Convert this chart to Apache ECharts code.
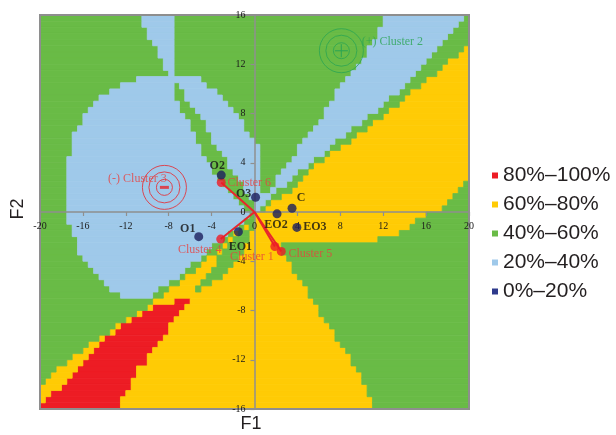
<!DOCTYPE html>
<html>
<head>
<meta charset="utf-8">
<script src="https://cdn.jsdelivr.net/npm/echarts@6/dist/echarts.min.js"></script>
<style>html,body{margin:0;padding:0;background:#fff}#c{width:616px;height:435px}</style>
</head>
<body>
<div id="c"></div>
<script>
// ---------------- DATA ----------------
const classLabels = ['80%–100%', '60%–80%', '40%–60%', '20%–40%', '0%–20%'];
const classCodes  = ['r', 'y', 'g', 'b', 'n'];

// Classified map, one row per 0.5 unit of F2 (row centre), runs read left to right:
// code:xEnd  (b = 20–40%, g = 40–60%, y = 60–80%, r = 80–100%), starting at F1 = -20
const mapRows = [
  [15.75, 'g:-10.5 b:-7.5 g:12 b:19.5 g:20'],
  [15.25, 'g:-10.5 b:-7.5 g:12 b:19 g:20'],
  [14.75, 'g:-10 b:-7.5 g:11.5 b:18.5 g:20'],
  [14.25, 'g:-10 b:-7.5 g:11.5 b:18 g:20'],
  [13.75, 'g:-9.5 b:-7.5 g:11 b:17.5 g:20'],
  [13.25, 'g:-9 b:-7.5 g:10.5 b:17 g:19.5 y:20'],
  [12.75, 'g:-9 b:-7.5 g:10.5 b:16.5 g:19 y:20'],
  [12.25, 'g:-8.5 b:-7.5 g:10 b:16 g:18 y:20'],
  [11.75, 'g:-8.5 b:-7.5 g:9.5 b:15.5 g:17.5 y:20'],
  [11.25, 'g:-8 b:-7.5 g:9 b:15 g:17 y:20'],
  [10.75, 'g:-11 b:-5 g:8.5 b:14.5 g:16 y:20'],
  [10.25, 'g:-12.5 b:-7.5 g:-7 b:-4.5 g:8 b:14 g:15.5 y:20'],
  [9.75,  'g:-13.5 b:-7.5 g:-6.5 b:-3.5 g:7.5 b:13.5 g:14.5 y:20'],
  [9.25,  'g:-14.5 b:-7.5 g:-6.5 b:-3 g:7.5 b:12.5 g:14 y:20'],
  [8.75,  'g:-15 b:-7 g:-6 b:-2.5 g:7 b:12 g:13.5 y:20'],
  [8.25,  'g:-15.5 b:-7 g:-5.5 b:-2 g:6.5 b:11.5 g:12.5 y:20'],
  [7.75,  'g:-16 b:-6.5 g:-5 b:-1.5 g:6.5 b:10.5 g:12 y:20'],
  [7.25,  'g:-16 b:-6 g:-4.5 b:-1 g:6 b:10 g:11 y:20'],
  [6.75,  'g:-16.5 b:-6 g:-4.5 b:-1 g:5.5 b:9 g:10.5 y:20'],
  [6.25,  'g:-17 b:-5.5 g:-4 b:-0.5 g:5 b:8.5 g:9.5 y:20'],
  [5.75,  'g:-17 b:-5.5 g:-4 b:0 g:4.5 b:7.5 g:9 y:20'],
  [5.25,  'g:-17 b:-5 g:-3.5 b:0.5 g:4 b:7 g:8 y:20'],
  [4.75,  'g:-17 b:-5 g:-3 b:0.5 g:4 b:6.5 g:7 y:20'],
  [4.25,  'g:-17.5 b:-4.5 g:-2.5 b:0.5 g:3.5 b:5.5 g:6.5 y:20'],
  [3.75,  'g:-17.5 b:-4 g:-2.5 b:0.5 g:3 b:5 g:5.5 y:20'],
  [3.25,  'g:-17.5 b:-4 g:-2 b:0.5 g:2.5 b:4 g:5 y:20'],
  [2.75,  'g:-17.5 b:-3.5 g:-1.5 b:0.5 g:2 b:3.5 g:4.5 y:20'],
  [2.25,  'g:-17.5 b:-3 g:-1 b:0.5 g:2 b:3 g:4 y:19.5 g:20'],
  [1.75,  'g:-17.5 b:-2.5 g:-1 b:0.5 g:1.5 b:2 g:3.5 y:19 g:20'],
  [1.25,  'g:-17.5 b:-2 g:-0.5 b:1.5 g:2.5 y:18.5 g:20'],
  [0.75,  'g:-17.5 b:-1.5 g:0 b:1 g:1.5 y:18 g:20'],
  [0.25,  'g:-17.5 b:-1 g:0 b:0.5 g:1 y:17.5 g:20'],
  [-0.25, 'g:-17.5 b:-0.5 g:0 y:16 g:20'],
  [-0.75, 'g:-17.5 b:-1 g:0 y:15 g:20'],
  [-1.25, 'g:-17 b:-1.5 g:-1 y:-0.5 g:0 y:14.5 g:20'],
  [-1.75, 'g:-17 b:-2.5 g:-2 y:-1.5 g:-0.5 y:13.5 g:20'],
  [-2.25, 'g:-16.5 b:-3 g:-2.5 y:-2 g:-0.5 y:11.5 g:20'],
  [-2.75, 'g:-16.5 b:-4 g:-3 y:-2.5 g:-1 y:2.5 g:20'],
  [-3.25, 'g:-16.5 b:-4.5 g:-3.5 y:-3 g:-1 y:2.5 g:20'],
  [-3.75, 'g:-16 b:-5 g:-4.5 y:-3.5 g:-1.5 y:3 g:20'],
  [-4.25, 'g:-15.5 b:-6 g:-5 y:-3.5 g:-2 y:3.5 g:20'],
  [-4.75, 'g:-15 b:-6.5 g:-5.5 y:-4 g:-2.5 y:3.5 g:20'],
  [-5.25, 'g:-14.5 b:-7 g:-6.5 y:-4.5 g:-3 y:4 g:20'],
  [-5.75, 'g:-14 b:-8 g:-7 y:-5 g:-4 y:4.5 g:20'],
  [-6.25, 'g:-13.5 b:-9 g:-8 y:-5.5 g:-5 y:5 g:20'],
  [-6.75, 'g:-12.5 b:-9.5 g:-8.5 y:5 g:20'],
  [-7.25, 'g:-9.5 y:-7.5 r:-6 y:5.5 g:20'],
  [-7.75, 'g:-10 y:-9.5 r:-6.5 y:6 g:20'],
  [-8.25, 'g:-11 y:-10.5 r:-7 y:6 g:20'],
  [-8.75, 'g:-12 y:-11.5 r:-7.5 y:6.5 g:20'],
  [-9.25, 'g:-13 y:-12.5 r:-8 y:7 g:20'],
  [-9.75, 'g:-13.5 y:-13 r:-8 y:7.5 g:20'],
  [-10.25,'g:-14.5 y:-14 r:-8.5 y:7.5 g:20'],
  [-10.75,'g:-15.5 y:-14.5 r:-9 y:8 g:20'],
  [-11.25,'g:-16 y:-15 r:-9.5 y:8.5 g:20'],
  [-11.75,'g:-17 y:-15.5 r:-10 y:9 g:20'],
  [-12.25,'g:-17.5 y:-16 r:-10 y:9 g:20'],
  [-12.75,'g:-18.5 y:-16.5 r:-11 y:9.5 g:20'],
  [-13.25,'g:-19 y:-17 r:-11 y:10 g:20'],
  [-13.75,'g:-19.5 y:-17.5 r:-11.5 y:10 g:20'],
  [-14.25,'y:-18 r:-11.5 y:10.5 g:20'],
  [-14.75,'y:-19 r:-12 y:10.5 g:20'],
  [-15.25,'y:-19.5 r:-12.5 y:11 g:20'],
  [-15.75,'r:-12.5 y:11 g:20']
];

const pointNames = ['O1', 'O2', 'O3', 'C', 'EO1', 'EO2', 'EO3'];
const pointX     = [-5.2, -3.1, 0.1, 3.5, -1.5, 2.1, 3.95];
const pointY     = [-2.0, 3.0, 1.2, 0.3, -1.6, -0.15, -1.25];

const clusterNames = ['Cluster 1', 'Cluster 4', 'Cluster 5', 'Cluster 6'];
const clusterX     = [1.9, -3.15, 2.5, -3.1];
const clusterY     = [-2.8, -2.2, -3.2, 2.4];

const centroidNames = ['(+) Cluster 2', '(-) Cluster 3'];
const centroidX     = [8.1, -8.4];
const centroidY     = [13.1, 2.0];

const xMin = -20, xMax = 20, xStep = 4;
const yMin = -16, yMax = 16, yStep = 4;

// ---------------- STYLE ----------------
const classColors = { r: '#ed1c24', y: '#ffcb05', g: '#69bb46', b: '#9fc9ea', n: '#2e3a8c' };
const ROW_HALF = 0.25;
const serif = '"Liberation Serif", "DejaVu Serif", serif';
const sans = '"Liberation Sans", Arial, sans-serif';
const labelOffsets = {
  'O1': [-11, -8], 'O2': [-4, -9], 'O3': [-12, -3], 'C': [9, -10],
  'EO1': [2, 15], 'EO2': [-1, 11], 'EO3': [18, 0],
  'Cluster 1': [-23, 10], 'Cluster 4': [-21, 11], 'Cluster 5': [29, 2], 'Cluster 6': [28, 0],
  '(+) Cluster 2': [51, -9], '(-) Cluster 3': [-27, -9]
};
const centroidColors = ['#2aa552', '#e8262c'];
const ringSizes = [44, 31, 16];
const GRID = { left: 40, right: 147, top: 15, bottom: 26 };
const CW = 616 - GRID.left - GRID.right, CH = 435 - GRID.top - GRID.bottom;

// ---------------- BUILD ----------------
const runs = {};
classCodes.forEach(c => { runs[c] = []; });
mapRows.forEach(([yc, s]) => {
  let x0 = xMin;
  s.trim().split(/\s+/).forEach(tok => {
    const code = tok[0];
    const x1 = parseFloat(tok.slice(2));
    runs[code].push([x0, x1, yc]);
    x0 = x1;
  });
});

function renderRun(params, api) {
  const p0 = api.coord([api.value(0), api.value(2) + ROW_HALF]);
  const p1 = api.coord([api.value(1), api.value(2) - ROW_HALF]);
  const color = api.visual('color');
  return {
    type: 'rect',
    shape: { x: p0[0], y: p0[1], width: p1[0] - p0[0], height: p1[1] - p0[1] },
    style: { fill: color, stroke: color, lineWidth: 0.8 }
  };
}

const series = [];
classCodes.forEach((code, i) => {
  series.push({
    type: 'custom', name: classLabels[i], renderItem: renderRun,
    data: runs[code], encode: { x: [0, 1], y: 2 },
    itemStyle: { color: classColors[code] }, z: 1, silent: true, clip: true
  });
});

series.push({
  type: 'lines', coordinateSystem: 'cartesian2d', z: 6, silent: true,
  lineStyle: { color: '#e8262c', width: 2, opacity: 1 },
  data: clusterX.map((x, i) => ({ coords: [[0, 0], [x, clusterY[i]]] }))
});

const ringData = [];
centroidX.forEach((x, i) => {
  ringSizes.forEach(sz => {
    ringData.push({ value: [x, centroidY[i]], symbolSize: sz,
      itemStyle: { color: 'rgba(0,0,0,0)', borderColor: centroidColors[i], borderWidth: 1 } });
  });
});
series.push({ type: 'scatter', z: 6, silent: true, symbol: 'circle', data: ringData });

series.push({
  type: 'scatter', z: 7, silent: true,
  data: [
    { name: centroidNames[0], value: [centroidX[0], centroidY[0]], symbol: 'rect', symbolSize: [13, 1.3],
      itemStyle: { color: centroidColors[0] },
      label: { show: true, position: 'inside', formatter: '{b}', offset: labelOffsets[centroidNames[0]],
        color: centroidColors[0], fontFamily: serif, fontSize: 12 } },
    { value: [centroidX[0], centroidY[0]], symbol: 'rect', symbolSize: [1.3, 13],
      itemStyle: { color: centroidColors[0] } },
    { name: centroidNames[1], value: [centroidX[1], centroidY[1]], symbol: 'rect', symbolSize: [9, 3],
      itemStyle: { color: centroidColors[1] },
      label: { show: true, position: 'inside', formatter: '{b}', offset: labelOffsets[centroidNames[1]],
        color: '#e8403f', fontFamily: serif, fontSize: 12 } }
  ]
});

series.push({
  type: 'scatter', z: 8, silent: true, symbol: 'circle', symbolSize: 9,
  itemStyle: { color: '#ee1c25' },
  label: { show: true, position: 'inside', formatter: '{b}', color: '#e8403f', fontFamily: serif, fontSize: 12 },
  data: clusterNames.map((n, i) => ({ name: n, value: [clusterX[i], clusterY[i]], label: { offset: labelOffsets[n] } }))
});

series.push({
  type: 'scatter', z: 8, silent: true, symbol: 'circle', symbolSize: 9,
  itemStyle: { color: '#1c1f5e' },
  label: { show: true, position: 'inside', formatter: '{b}', color: '#111', fontFamily: serif, fontSize: 12, fontWeight: 'bold' },
  data: pointNames.map((n, i) => ({ name: n, value: [pointX[i], pointY[i]], label: { offset: labelOffsets[n] } }))
});

const axisCommon = {
  type: 'value', z: 5,
  axisLine: { onZero: false, lineStyle: { color: '#8f8f8f', width: 1.5 } },
  axisTick: { show: true, length: 4, lineStyle: { color: '#8f8f8f', width: 1.2 } },
  splitLine: { show: false },
  axisLabel: { color: '#1a1a1a', fontFamily: serif, fontSize: 10, margin: 9 }
};

const chart = echarts.init(document.getElementById('c'), null, { renderer: 'canvas' });
chart.setOption({
  animation: false,
  backgroundColor: '#fff',
  grid: Object.assign({ show: true, z: 4, borderColor: '#8e8e8e', borderWidth: 2,
    backgroundColor: 'transparent', outerBoundsMode: 'none' }, GRID),
  // axes drawn through the origin (the centre of the symmetric ranges)
  xAxis: Object.assign({}, axisCommon, { min: xMin, max: xMax, interval: xStep,
    position: 'bottom', offset: -CH * (0 - yMin) / (yMax - yMin) }),
  yAxis: Object.assign({}, axisCommon, { min: yMin, max: yMax, interval: yStep,
    position: 'left', offset: -CW * (0 - xMin) / (xMax - xMin) }),
  legend: {
    orient: 'vertical', left: 487, top: 160, itemWidth: 6, itemHeight: 6, itemGap: 8,
    icon: 'rect', selectedMode: false,
    textStyle: { fontFamily: sans, fontSize: 21, color: '#231f20' },
    data: classLabels
  },
  graphic: [
    { type: 'text', x: 251, y: 424, style: { text: 'F1', font: '18px ' + sans, fill: '#231f20', align: 'center', verticalAlign: 'middle' } },
    { type: 'text', x: 18, y: 209, rotation: Math.PI / 2, style: { text: 'F2', font: '18px ' + sans, fill: '#231f20', align: 'center', verticalAlign: 'middle' } }
  ],
  series: series
});
</script>
</body>
</html>
